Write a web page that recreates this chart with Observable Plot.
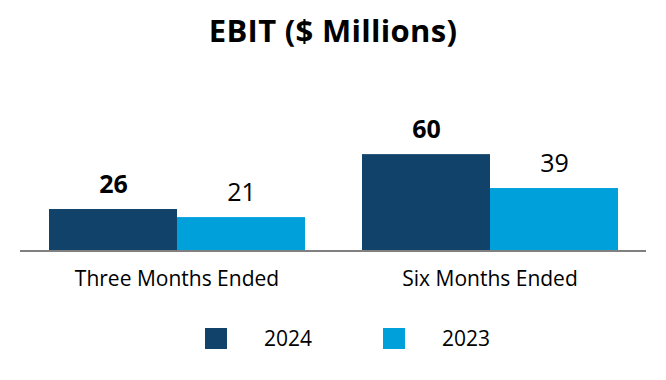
<!DOCTYPE html>
<html>
<head>
<meta charset="utf-8">
<script src="https://cdn.jsdelivr.net/npm/d3@7"></script>
<script src="https://cdn.jsdelivr.net/npm/@observablehq/plot@0.6"></script>
<style>
  html, body { margin: 0; padding: 0; background: #fff; }
  #wrap { position: relative; width: 666px; height: 380px; font-family: "Open Sans", sans-serif; color: #000; }
  #title { position: absolute; left: 0; top: 10px; width: 666px; text-align: center; font-size: 31px; font-weight: 700; line-height: 40px; letter-spacing: 0.3px; }
  #chart { position: absolute; left: 0; top: 65px; }
  .leg { position: absolute; font-size: 21px; line-height: 24px; }
  .sw { position: absolute; width: 22px; height: 21px; }
</style>
</head>
<body>
<div id="wrap">
  <div id="title">EBIT ($ Millions)</div>
  <div id="chart"></div>
  <div id="legend"></div>
</div>
<script>
const periods = ["Three Months Ended", "Six Months Ended"];
const years = ["2024", "2023"];
const values2024 = [26, 60];
const values2023 = [21, 39];
const colors = ["#10426a", "#00a0db"];

const data = [];
periods.forEach((p, i) => {
  data.push({period: p, year: years[0], value: values2024[i]});
  data.push({period: p, year: years[1], value: values2023[i]});
});

const W = 666, H = 240, mT = 10, mB = 54, mL = 20, mR = 20;

const plot = Plot.plot({
  width: W,
  height: H,
  marginTop: mT,
  marginBottom: mB,
  marginLeft: mL,
  marginRight: mR,
  style: {fontFamily: "Open Sans, sans-serif", background: "#fff", overflow: "visible"},
  fx: {domain: periods, paddingInner: 0.179, paddingOuter: 0.0895, label: null},
  x: {domain: years, padding: 0, axis: null},
  y: {domain: [0, 109], axis: null},
  color: {domain: years, range: colors},
  marks: [
    Plot.barY(data, {fx: "period", x: "year", y: "value", fill: "year"}),
    Plot.text(data.filter(d => d.year === years[0]), {fx: "period", x: "year", y: "value", text: d => String(d.value), dy: -17, lineAnchor: "bottom", fontSize: 25, fontWeight: 700, fill: "#000"}),
    Plot.text(data.filter(d => d.year === years[1]), {fx: "period", x: "year", y: "value", text: d => String(d.value), dy: -17, lineAnchor: "bottom", fontSize: 25, fontWeight: 400, fill: "#000"}),
    Plot.axisFx({anchor: "bottom", tickSize: 0, tickPadding: 20, fontSize: 21, label: null, fill: "#000"})
  ]
});

document.getElementById("chart").appendChild(plot);

// full-width baseline drawn at y(0) from the plot's own y scale
const y0 = plot.scale("y").apply(0);
d3.select(plot).append("line")
  .attr("x1", mL).attr("x2", W - mR)
  .attr("y1", y0).attr("y2", y0)
  .attr("stroke", "#808080").attr("stroke-width", 2);

// legend
const legend = document.getElementById("legend");
const legPos = [{sw: 205, tx: 264}, {sw: 383, tx: 442}];
years.forEach((yr, i) => {
  const s = document.createElement("div");
  s.className = "sw";
  s.style.left = legPos[i].sw + "px";
  s.style.top = "328px";
  s.style.background = colors[i];
  legend.appendChild(s);
  const t = document.createElement("div");
  t.className = "leg";
  t.style.left = legPos[i].tx + "px";
  t.style.top = "326px";
  t.textContent = yr;
  legend.appendChild(t);
});
</script>
</body>
</html>
